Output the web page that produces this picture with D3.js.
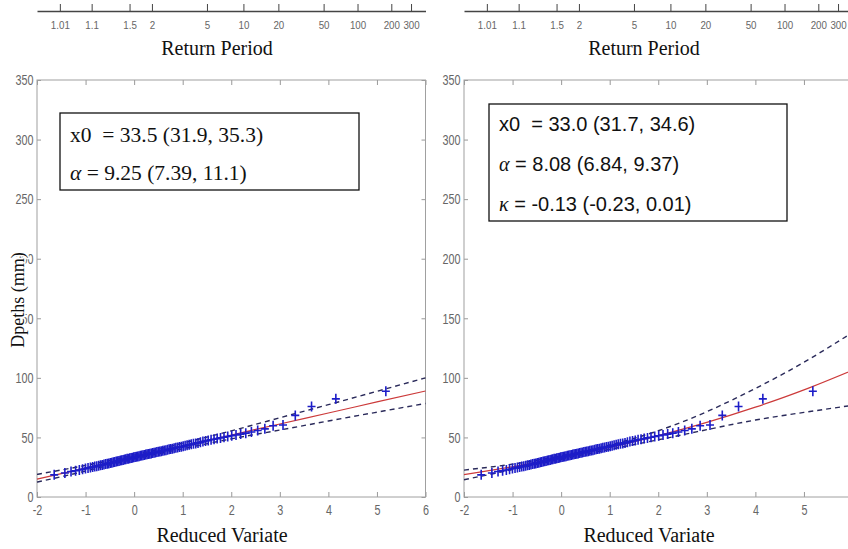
<!DOCTYPE html>
<html>
<head>
<meta charset="utf-8">
<script src="https://cdn.jsdelivr.net/npm/d3@7"></script>
<style>
  body { margin: 0; background: #fff; }
  svg { display: block; }
  .tick text { font-family: "Liberation Sans Narrow", "Liberation Sans", sans-serif; fill: #666; }
  .serif { font-family: "Liberation Serif", "Times New Roman", serif; fill: #111; }
  .sans { font-family: "Liberation Sans", Arial, sans-serif; fill: #111; }
</style>
</head>
<body>
<script>
// sorted depths (mm) (n = 100)
var depths = [
  18.6, 20.1, 21.4, 22.0, 22.6, 23.3, 23.9, 24.4, 24.8, 25.2,
  25.5, 25.9, 26.2, 26.6, 26.9, 27.3, 27.6, 28.0, 28.2, 28.5,
  28.8, 29.1, 29.4, 29.7, 30.0, 30.3, 30.6, 30.9, 31.1, 31.4,
  31.7, 32.0, 32.2, 32.5, 32.8, 33.0, 33.3, 33.5, 33.8, 34.0,
  34.3, 34.6, 34.8, 35.1, 35.3, 35.6, 35.8, 36.1, 36.3, 36.6,
  36.9, 37.2, 37.4, 37.7, 38.0, 38.2, 38.5, 38.8, 39.0, 39.3,
  39.6, 40.0, 40.3, 40.6, 41.0, 41.3, 41.6, 41.9, 42.2, 42.6,
  43.0, 43.4, 43.8, 44.2, 44.6, 45.0, 45.4, 45.9, 46.5, 47.0,
  47.5, 48.0, 48.5, 49.0, 49.6, 50.2, 50.8, 51.4, 52.1, 52.8,
  53.6, 54.6, 55.8, 57.2, 59.8, 60.4, 68.5, 76.0, 82.4, 88.8
];

var returnPeriods = [1.01, 1.1, 1.5, 2, 5, 10, 20, 50, 100, 200, 300];
var variateTicks = [-2, -1, 0, 1, 2, 3, 4, 5, 6];
var depthTicks = [0, 50, 100, 150, 200, 250, 300, 350];

// fitted quantiles and confidence bands, read at the integer reduced variates
var gridZ = [-2, -1, 0, 1, 2, 3, 4, 5, 6];
var gumFit   = [15.0, 24.3, 33.5, 42.8, 52.0, 61.3, 70.5, 79.8, 89.0];
var gumUpper = [19.0, 26.5, 35.2, 45.2, 55.5, 66.5, 77.5, 88.7, 100.0];
var gumLower = [12.5, 21.8, 31.8, 40.5, 48.8, 56.2, 63.8, 71.2, 78.5];
var gevFit   = [18.8, 25.4, 33.0, 41.6, 51.5, 62.6, 75.4, 89.9, 106.4];
var gevUpper = [22.6, 27.6, 34.6, 43.6, 55.6, 71.6, 91.1, 113.1, 138.1];
var gevLower = [14.5, 23.0, 31.7, 40.0, 48.0, 56.5, 64.6, 71.0, 77.0];

var gumText = ["x0  = 33.5 (31.9, 35.3)", "= 9.25 (7.39, 11.1)"];
var gevText = ["x0  = 33.0 (31.7, 34.6)", "= 8.08 (6.84, 9.37)", "= -0.13 (-0.23, 0.01)"];

var W = 848, H = 549;

var svg = d3.select("body").append("svg")
    .attr("width", W)
    .attr("height", H);

// reduced variate of a return period, and Gringorten plotting positions
function gumbelZ(T) { return -Math.log(-Math.log(1 - 1 / T)); }
var n = depths.length;
var points = depths.map(function(d, i) {
  var p = (i + 1 - 0.44) / (n + 0.12);
  return {z: -Math.log(-Math.log(p)), v: d};
});

function drawPanel(p) {
  var x = d3.scaleLinear().domain([-2, 6]).range([p.left, p.left + 388.5]);
  var y = d3.scaleLinear().domain([0, 350]).range([497, 80]);
  var g = svg.append("g");

  // Return period axis across the top
  var top = g.append("g")
      .attr("transform", "translate(0,11)")
      .call(d3.axisBottom(x)
        .tickValues(returnPeriods.map(gumbelZ))
        .tickFormat(function(d, i) { return returnPeriods[i]; })
        .tickSizeInner(-7).tickSizeOuter(0).tickPadding(10));
  top.select(".domain").attr("stroke", "#444").attr("stroke-width", 1.3);
  top.selectAll(".tick line").attr("stroke", "#444");
  top.selectAll(".tick text").style("font-size", "11.5px").attr("fill", "#777")
      .attr("transform", "scale(0.85,1)");

  g.append("text").attr("class", "serif")
      .attr("x", p.left + 180).attr("y", 55)
      .attr("text-anchor", "middle")
      .style("font-size", "20px")
      .text("Return Period");

  // box axes with inward ticks; labels only where they fit in the window
  var shown = variateTicks.filter(function(v) { return x(v) < W - 4; });
  var bottom = g.append("g")
      .attr("transform", "translate(0,497)")
      .call(d3.axisBottom(x).tickValues(variateTicks)
        .tickFormat(function(d) { return shown.indexOf(d) >= 0 ? String(d) : ""; })
        .tickSizeInner(-5).tickSizeOuter(0).tickPadding(7.5));
  var topTicks = g.append("g")
      .attr("transform", "translate(0,80)")
      .call(d3.axisTop(x).tickValues(variateTicks).tickFormat("")
        .tickSizeInner(-5).tickSizeOuter(0));
  var leftAx = g.append("g")
      .attr("transform", "translate(" + p.left + ",0)")
      .call(d3.axisLeft(y).tickValues(depthTicks)
        .tickSizeInner(-4).tickSizeOuter(0).tickPadding(5));
  var rightAx = g.append("g")
      .attr("transform", "translate(" + (p.left + 388.5) + ",0)")
      .call(d3.axisRight(y).tickValues(depthTicks).tickFormat("")
        .tickSizeInner(-4).tickSizeOuter(0));

  [bottom, topTicks, leftAx, rightAx].forEach(function(a) {
    a.select(".domain").remove();
    a.selectAll(".tick line").attr("stroke", "#999");
    a.selectAll(".tick text").style("font-size", "15px")
        .attr("transform", "scale(0.72,1)");
  });

  g.append("rect")
      .attr("x", x(-2)).attr("y", y(350))
      .attr("width", x(6) - x(-2)).attr("height", y(0) - y(350))
      .attr("fill", "none").attr("stroke", "#a0a0a0");

  g.append("text").attr("class", "serif")
      .attr("x", p.left + 185).attr("y", 542)
      .attr("text-anchor", "middle")
      .style("font-size", "20px")
      .text("Reduced Variate");

  // bands and fit
  var line = d3.line()
      .x(function(d, i) { return x(gridZ[i]); })
      .y(function(d) { return y(d); })
      .curve(d3.curveNatural);

  [p.upper, p.lower].forEach(function(s) {
    g.append("path").datum(s)
        .attr("d", line)
        .attr("fill", "none")
        .attr("stroke", "#2a2a5a")
        .attr("stroke-width", 1.4)
        .attr("stroke-dasharray", "5,4");
  });

  g.append("path").datum(p.fit)
      .attr("d", line)
      .attr("fill", "none")
      .attr("stroke", "#cc3a3a")
      .attr("stroke-width", 1.2);

  // observed depths
  g.append("g").selectAll("path.pt")
      .data(points)
      .enter().append("path")
      .attr("class", "pt")
      .attr("transform", function(d) { return "translate(" + x(d.z) + "," + y(d.v) + ")"; })
      .attr("d", "M-4,0H4M0,-5V5")
      .attr("stroke", "#1d1dc8")
      .attr("stroke-width", 1.6)
      .attr("fill", "none");

  // parameter box
  g.append("rect")
      .attr("x", p.box[0]).attr("y", p.box[1])
      .attr("width", p.box[2]).attr("height", p.box[3])
      .attr("fill", "#fff").attr("stroke", "#111").attr("stroke-width", 1.3);

  p.lines.forEach(function(t, i) {
    var txt = g.append("text")
        .attr("class", p.font)
        .attr("x", p.box[0] + 10)
        .attr("y", p.base[i])
        .style("font-size", p.size + "px")
        .style("white-space", "pre");
    if (i === 0) {
      txt.text(t);
    } else {
      txt.append("tspan").attr("class", "serif").style("font-style", "italic")
          .text(i === 1 ? "\u03b1" : "\u03ba");
      txt.append("tspan").text(" " + t);
    }
  });

  return g;
}

drawPanel({
  left: 37, fit: gumFit, upper: gumUpper, lower: gumLower,
  box: [60, 113, 299, 77], base: [142, 180], lines: gumText,
  font: "serif", size: 21.5
});

drawPanel({
  left: 464, fit: gevFit, upper: gevUpper, lower: gevLower,
  box: [489, 104, 298, 117], base: [131, 171, 211], lines: gevText,
  font: "sans", size: 20
});

// y axis title, drawn over the tick labels as in the original
svg.append("text").attr("class", "serif")
    .attr("transform", "translate(24,300) rotate(-90)")
    .attr("text-anchor", "middle")
    .style("font-size", "18px")
    .attr("stroke", "#fff").attr("stroke-width", 3)
    .style("paint-order", "stroke")
    .text("Dpeths (mm)");
</script>
</body>
</html>
